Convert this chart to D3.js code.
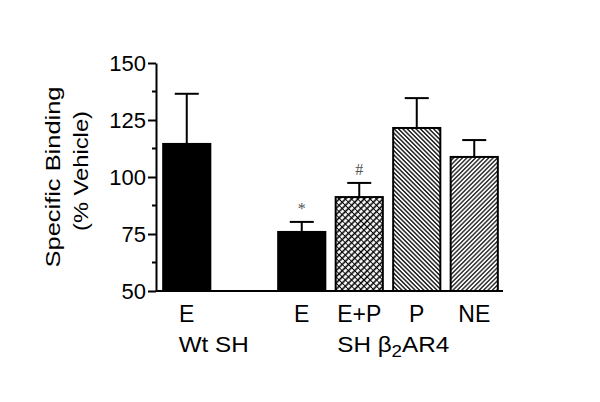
<!DOCTYPE html>
<html>
<head>
<meta charset="utf-8">
<script src="https://cdn.jsdelivr.net/npm/d3@7"></script>
<style>
  body { margin: 0; background: #fff; }
  text { font-family: "Liberation Sans", Arial, sans-serif; }
</style>
</head>
<body>
<div id="chart"></div>
<script>
// slots along the x axis ("gap" is the empty slot between the groups)
const slots = ["wtE", "gap", "shE", "shEP", "shP", "shNE"]
const barKeys = ["wtE", "shE", "shEP", "shP", "shNE"]
const barLabels = ["E", "E", "E+P", "P", "NE"]
const means = [114.5, 75.9, 91.2, 121.5, 108.8]
const sems = [22.0, 4.4, 6.2, 13.1, 7.4]
const yTicks = [50, 75, 100, 125, 150]
const yMinorTicks = [62.5, 87.5, 112.5, 137.5]
const marks = [{key: "shE", text: "*"}, {key: "shEP", text: "#"}]

const WIDTH = 600, HEIGHT = 402
const fills = {wtE: "#000", shE: "#000", shEP: "url(#cross)", shP: "url(#back)", shNE: "url(#fwd)"}

const svg = d3.select("#chart").append("svg")
  .attr("width", WIDTH)
  .attr("height", HEIGHT)

// hatch patterns
const defs = svg.append("defs")
function hatch(id, size, angle, w) {
  const p = defs.append("pattern")
    .attr("id", id)
    .attr("patternUnits", "userSpaceOnUse")
    .attr("width", size).attr("height", size)
    .attr("patternTransform", `rotate(${angle})`)
  p.append("rect").attr("width", size).attr("height", size).attr("fill", "#fff")
  p.append("line").attr("x1", size / 2).attr("x2", size / 2)
    .attr("y1", 0).attr("y2", size)
    .attr("stroke", "#000").attr("stroke-width", w)
  return p
}
hatch("back", 3.1, -45, 1.3)
hatch("fwd", 3.1, 45, 1.2)
const cross = hatch("cross", 4.4, 45, 1.6)
cross.append("line").attr("x1", 0).attr("x2", 4.4)
  .attr("y1", 2.2).attr("y2", 2.2)
  .attr("stroke", "#000").attr("stroke-width", 0.9)

// scales
const y = d3.scaleLinear().domain([50, 150]).range([291, 63])
const x = d3.scaleBand().domain(slots).range([158, 503])
  .paddingInner(0.18).paddingOuter(0.09)
const AXIS_X = 156

// y axis
const yAxis = svg.append("g")
  .attr("transform", `translate(${AXIS_X},0)`)
  .call(d3.axisLeft(y).tickValues(yTicks).tickSize(8).tickSizeOuter(0).tickPadding(2))
yAxis.select(".domain").attr("stroke-width", 2)
yAxis.selectAll(".tick line").attr("stroke-width", 2)
yAxis.selectAll(".tick text")
  .attr("font-size", 22)
  .attr("fill", "#000")
  .style("font-family", "'Liberation Sans', Arial, sans-serif")
yAxis.append("g").selectAll("line")
  .data(yMinorTicks)
  .enter().append("line")
  .attr("x1", -4).attr("x2", 0)
  .attr("y1", d => y(d)).attr("y2", d => y(d))
  .attr("stroke", "#000").attr("stroke-width", 2)

// y title
const title = svg.append("g")
  .attr("transform", `translate(0,${(y(50) + y(150)) / 2}) rotate(-90)`)
title.append("text")
  .attr("x", 0).attr("y", 60)
  .attr("text-anchor", "middle")
  .attr("font-size", 21)
  .attr("textLength", 181).attr("lengthAdjust", "spacingAndGlyphs")
  .text("Specific Binding")
title.append("text")
  .attr("x", 6).attr("y", 88)
  .attr("text-anchor", "middle")
  .attr("font-size", 21)
  .attr("textLength", 120).attr("lengthAdjust", "spacingAndGlyphs")
  .text("(% Vehicle)")

// bars
const bars = barKeys.map((k, i) => ({key: k, label: barLabels[i], mean: means[i], sem: sems[i]}))

svg.selectAll("rect.bar")
  .data(bars)
  .enter().append("rect")
  .attr("class", "bar")
  .attr("x", d => x(d.key))
  .attr("y", d => y(d.mean))
  .attr("width", x.bandwidth())
  .attr("height", d => y(50) - y(d.mean))
  .attr("fill", d => fills[d.key])
  .attr("stroke", "#000")
  .attr("stroke-width", 2)

// error bars (upper only)
const err = svg.selectAll("g.err")
  .data(bars)
  .enter().append("g")
  .attr("transform", d => `translate(${x(d.key) + x.bandwidth() / 2},0)`)
err.append("line")
  .attr("y1", d => y(d.mean)).attr("y2", d => y(d.mean + d.sem))
  .attr("stroke", "#000").attr("stroke-width", 2)
err.append("line")
  .attr("x1", -12).attr("x2", 12)
  .attr("y1", d => y(d.mean + d.sem)).attr("y2", d => y(d.mean + d.sem))
  .attr("stroke", "#000").attr("stroke-width", 2)

// x baseline
svg.append("line")
  .attr("x1", AXIS_X).attr("x2", x.range()[1])
  .attr("y1", y(50)).attr("y2", y(50))
  .attr("stroke", "#000").attr("stroke-width", 2)

// significance marks
svg.selectAll("text.mark")
  .data(marks)
  .enter().append("text")
  .attr("x", d => x(d.key) + x.bandwidth() / 2)
  .attr("y", d => {
    const b = bars.find(b => b.key === d.key)
    return y(b.mean + b.sem) - 8
  })
  .attr("text-anchor", "middle")
  .attr("font-size", 16)
  .attr("fill", "#555")
  .style("font-family", "'Liberation Serif', 'Times New Roman', serif")
  .text(d => d.text)

// category labels
svg.selectAll("text.cat")
  .data(bars)
  .enter().append("text")
  .attr("x", d => x(d.key) + x.bandwidth() / 2)
  .attr("y", 322)
  .attr("text-anchor", "middle")
  .attr("font-size", 23)
  .text(d => d.label)

// group labels
svg.append("text")
  .attr("x", x("wtE") + x.bandwidth() / 2 - 8)
  .attr("y", 352)
  .attr("font-size", 22)
  .attr("textLength", 70).attr("lengthAdjust", "spacingAndGlyphs")
  .text("Wt SH")
const grp = svg.append("text")
  .attr("x", x("shEP") + x.bandwidth() / 2 - 22)
  .attr("y", 352)
  .attr("font-size", 22)
  .attr("textLength", 112).attr("lengthAdjust", "spacingAndGlyphs")
grp.append("tspan").text("SH \u03b2")
grp.append("tspan").attr("dy", 5).attr("font-size", 17).text("2")
grp.append("tspan").attr("dy", -5).text("AR4")
</script>
</body>
</html>
